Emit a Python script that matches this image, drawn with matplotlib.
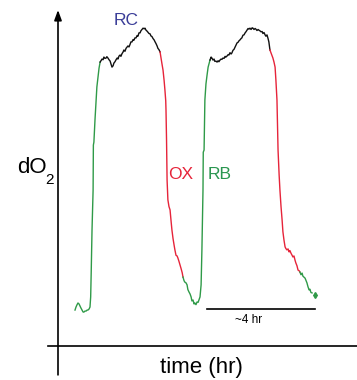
import matplotlib
matplotlib.use('Agg')
import matplotlib.pyplot as plt

plt.rcParams['font.family'] = ['Liberation Sans', 'DejaVu Sans']

GREEN = '#2f9a48'
RED = '#e6243a'
BLACK = '#111111'

# trace segments, time in hr, dO2 in arbitrary units
g1_t = [0.63, 0.667, 0.70, 0.74, 0.78, 0.815, 0.85, 0.89, 0.93, 0.96, 1.0, 1.04, 1.08, 1.11, 1.15,
        1.185, 1.21, 1.23, 1.26, 1.30, 1.31, 1.33, 1.37, 1.44, 1.52, 1.56]
g1_v = [10.7, 11.6, 12.2, 12.8, 12.5, 11.9, 11.3, 10.7, 10.1, 10.1, 10.4, 10.4, 10.7, 10.7, 11.0,
        11.6, 14.6, 22.0, 34.5, 46.4, 59.8, 60.7, 67.3, 77.1, 82.7, 84.5]

k1_t = [1.56, 1.60, 1.63, 1.67, 1.70, 1.74, 1.78, 1.81, 1.85, 1.89, 1.93, 1.96, 2.0, 2.04, 2.07,
        2.11, 2.15, 2.19, 2.22, 2.26, 2.30, 2.33, 2.37, 2.41, 2.44, 2.48, 2.52, 2.56, 2.59, 2.63,
        2.67, 2.70, 2.74, 2.78, 2.81, 2.85, 2.89, 2.93, 2.96, 3.0, 3.04, 3.07, 3.11, 3.15, 3.19,
        3.22, 3.26, 3.30, 3.33, 3.37, 3.41, 3.44, 3.48, 3.52, 3.56, 3.59, 3.63, 3.67, 3.70, 3.74,
        3.78]
k1_v = [84.5, 85.0, 85.4, 85.2, 86.0, 85.6, 85.7, 86.1, 85.7, 85.2, 84.8, 84.0, 83.0, 83.4, 84.2,
        84.6, 85.2, 85.7, 85.4, 86.3, 86.6, 86.2, 87.0, 87.5, 88.1, 87.7, 88.6, 89.0, 89.3, 89.0,
        89.8, 90.5, 90.5, 91.2, 91.0, 91.7, 91.7, 92.4, 92.2, 93.2, 93.2, 93.8, 94.2, 94.6, 94.4,
        94.6, 94.0, 93.7, 93.4, 93.0, 92.9, 92.3, 92.1, 91.5, 91.1, 90.6, 90.0, 89.3, 88.6, 88.2,
        87.5]

r1_t = [3.78, 3.85, 3.89, 3.93, 3.96, 3.99, 4.0, 4.02, 4.04, 4.07, 4.11, 4.15, 4.19, 4.22, 4.26,
        4.30, 4.33, 4.37, 4.41, 4.44, 4.48, 4.52, 4.56, 4.60, 4.63]
r1_v = [87.5, 84.0, 82.1, 79.0, 76.2, 73.0, 70.2, 61.3, 49.4, 43.5, 41.5, 40.5, 37.0, 34.5, 32.0,
        30.0, 28.6, 27.0, 26.8, 26.2, 25.2, 24.1, 23.0, 21.8, 20.5]

g2_t = [4.63, 4.67, 4.70, 4.74, 4.78, 4.81, 4.85, 4.89, 4.93, 4.96, 5.0, 5.04, 5.07, 5.11, 5.15,
        5.19, 5.22, 5.26, 5.30, 5.33, 5.37, 5.38, 5.41, 5.44, 5.48, 5.52, 5.56, 5.60, 5.63]
g2_v = [20.5, 19.4, 19.0, 18.8, 18.2, 16.8, 16.1, 15.5, 14.6, 13.4, 13.7, 12.5, 12.8, 12.3, 13.1,
        13.0, 13.7, 14.6, 18.2, 28.6, 46.4, 57.7, 58.3, 73.2, 78.0, 80.6, 83.0, 84.2, 85.1]

k2_t = [5.63, 5.67, 5.70, 5.74, 5.78, 5.81, 5.85, 5.89, 5.93, 5.96, 6.0, 6.04, 6.07, 6.11, 6.15,
        6.19, 6.22, 6.26, 6.30, 6.33, 6.37, 6.41, 6.44, 6.48, 6.52, 6.56, 6.59, 6.63, 6.67, 6.70,
        6.74, 6.78, 6.81, 6.85, 6.89, 6.93, 6.96, 7.0, 7.04, 7.07, 7.11, 7.15, 7.19, 7.22, 7.26,
        7.30, 7.33, 7.37, 7.41, 7.44, 7.48, 7.52, 7.56, 7.59, 7.63, 7.67, 7.70, 7.74, 7.78, 7.81,
        7.85]
k2_v = [85.1, 86.0, 85.7, 85.1, 85.4, 84.7, 84.8, 84.5, 84.9, 84.6, 85.1, 85.4, 85.3, 85.7, 85.6,
        86.2, 86.0, 86.3, 86.7, 86.6, 87.3, 86.9, 87.2, 88.0, 88.3, 89.0, 89.5, 90.2, 90.4, 90.8,
        91.1, 91.5, 91.7, 92.5, 92.6, 93.2, 93.5, 94.0, 94.5, 94.3, 94.6, 94.2, 94.7, 94.6, 94.2,
        94.5, 94.3, 93.9, 94.2, 94.0, 93.8, 93.5, 93.6, 93.0, 93.3, 92.6, 92.2, 92.6, 91.5, 90.5,
        88.1]

r2_t = [7.85, 7.90, 7.96, 8.0, 8.04, 8.07, 8.11, 8.15, 8.19, 8.22, 8.26, 8.30, 8.33, 8.37, 8.41,
        8.44, 8.48, 8.52, 8.56, 8.59, 8.63, 8.67, 8.70, 8.74, 8.78, 8.81, 8.85, 8.89, 8.93, 8.96]
r2_v = [88.1, 87.0, 85.7, 84.5, 83.0, 79.2, 73.2, 58.3, 50.9, 46.4, 41.5, 37.5, 34.0, 31.5, 29.5,
        29.0, 28.6, 28.9, 28.0, 28.4, 27.6, 27.0, 26.5, 26.8, 25.5, 24.7, 23.9, 22.6, 22.4, 22.0]

g3_t = [8.96, 9.0, 9.04, 9.07, 9.11, 9.15, 9.19, 9.22, 9.26, 9.30, 9.33, 9.37, 9.41]
g3_v = [22.0, 21.2, 21.7, 20.8, 20.5, 20.2, 19.4, 18.8, 17.6, 16.7, 16.9, 15.9, 15.8]
g3_end_t = [9.52]
g3_end_v = [15.2]

scale_t = [5.52, 9.52]
scale_v = [11.0, 11.0]

fig = plt.figure(figsize=(3.57, 3.80), dpi=100)
ax = fig.add_axes([58 / 357, 34 / 380, 299 / 357, 336 / 380])
ax.set_xlim(0, 299 / 27)
ax.set_ylim(0, 100)
ax.axis('off')

lw = 1.0
for t, v, c in [(g1_t, g1_v, GREEN), (k1_t, k1_v, BLACK), (r1_t, r1_v, RED),
                (g2_t, g2_v, GREEN), (k2_t, k2_v, BLACK), (r2_t, r2_v, RED),
                (g3_t, g3_v, GREEN)]:
    ax.plot(t, v, color=c, lw=lw, solid_joinstyle='round')
ax.plot(g3_end_t, g3_end_v, marker='d', ms=3, color=GREEN, ls='none')

# axes lines
ax.plot([-0.37, 299 / 27], [0, 0], color='black', lw=1.2, clip_on=False)
ax.annotate('', xy=(0, 100), xytext=(0, -8.6),
            arrowprops=dict(arrowstyle='-|>,head_width=0.22,head_length=0.6',
                            color='black', lw=1.2, shrinkA=0, shrinkB=0),
            annotation_clip=False)

# scale bar
ax.plot(scale_t, scale_v, color='black', lw=1.2)
ax.text(7.07, 7.7, '~4 hr', fontsize=8.5, ha='center', va='center')

ax.text(2.52, 97.0, 'RC', color='#3a3d98', fontsize=12.5, ha='center', va='center')
ax.text(4.56, 50.9, 'OX', color=RED, fontsize=12.5, ha='center', va='center')
ax.text(6.0, 50.9, 'RB', color='#2a9650', fontsize=12.5, ha='center', va='center')

ax.text(-0.96, 53.0, 'dO', fontsize=16, ha='center', va='center', clip_on=False)
ax.text(-0.30, 49.4, '2', fontsize=11, ha='center', va='center', clip_on=False)
ax.text(5.3, -6.5, 'time (hr)', fontsize=16, ha='center', va='center')

fig.savefig('out.png', dpi=100)
